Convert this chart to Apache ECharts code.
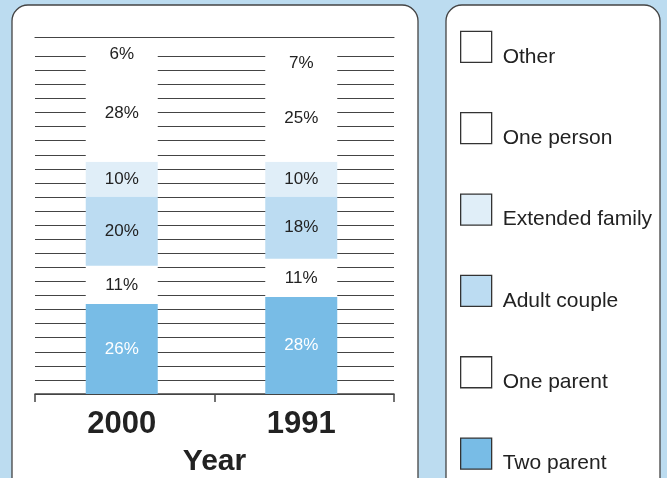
<!DOCTYPE html>
<html>
<head>
<meta charset="utf-8">
<script src="https://cdn.jsdelivr.net/npm/echarts@6/dist/echarts.min.js"></script>
<style>html,body{margin:0;padding:0;}#c{width:667px;height:478px;}</style>
</head>
<body>
<div id="c"></div>
<script>
const categories = ['2000', '1991'];
const twoParent = [26, 28];
const oneParent = [11, 11];
const adultCouple = [20, 18];
const extendedFamily = [10, 10];
const onePerson = [28, 25];
const other = [6, 7];
const legendOrder = ['Other', 'One person', 'Extended family', 'Adult couple', 'One parent', 'Two parent'];

const FONT = '"Liberation Sans", Arial, Helvetica, sans-serif';
const chart = echarts.init(document.getElementById('c'));

function seg(name, data, color, labelColor) {
  return {
    name: name, type: 'bar', stack: 'total', data: data,
    xAxisIndex: 0, yAxisIndex: 0, barWidth: 72,
    itemStyle: { color: color },
    label: { show: true, position: 'inside', formatter: '{c}%', color: labelColor,
             fontSize: 17, fontFamily: FONT },
    emphasis: { disabled: true }
  };
}

const option = {
  backgroundColor: '#bcdcf0',
  animation: false,
  graphic: [
    { type: 'rect', z: -10, shape: { x: 12, y: 5, width: 406, height: 492, r: 16 },
      style: { fill: '#ffffff', stroke: '#444444', lineWidth: 1.3 }, silent: true },
    { type: 'rect', z: -10, shape: { x: 446, y: 5, width: 214, height: 492, r: 16 },
      style: { fill: '#ffffff', stroke: '#444444', lineWidth: 1.3 }, silent: true }
  ],
  grid: [
    { left: 32, right: 276, top: 37, bottom: 84, outerBoundsMode: 'none', containLabel: false },
    { left: 35, right: 273, top: 56.3, bottom: 84, outerBoundsMode: 'none', containLabel: false }
  ],
  xAxis: [
    { type: 'category', data: categories, gridIndex: 0, position: 'bottom',
      axisLine: { show: false }, axisTick: { show: false },
      axisLabel: { fontSize: 31, fontWeight: 'bold', color: '#222222', fontFamily: FONT, margin: 15 } },
    { type: 'category', data: categories, gridIndex: 1, position: 'bottom',
      axisLine: { onZero: false, lineStyle: { color: '#444444', width: 1.5 } },
      axisTick: { show: true, length: 8, lineStyle: { color: '#444444', width: 1.5 } },
      axisLabel: { show: false },
      name: 'Year', nameLocation: 'middle', nameGap: 53,
      nameTextStyle: { fontSize: 30, fontWeight: 'bold', color: '#222222', fontFamily: FONT } },
    { type: 'category', data: categories, gridIndex: 1, position: 'top', offset: 19.3,
      axisLine: { onZero: false, lineStyle: { color: '#444444', width: 1.2 } },
      axisTick: { show: false }, axisLabel: { show: false } }
  ],
  yAxis: [
    { type: 'value', gridIndex: 0, min: 0, max: 103, show: false, splitLine: { show: false } },
    { type: 'value', gridIndex: 1, min: 0, max: 24, interval: 1,
      axisLine: { show: false }, axisTick: { show: false }, axisLabel: { show: false },
      splitLine: { show: true, lineStyle: { color: '#444444', width: 1 } } }
  ],
  legend: {
    orient: 'vertical', left: 460, top: 30.7, height: 446, padding: 0,
    itemWidth: 31, itemHeight: 31, itemGap: 44.7,
    icon: 'rect',
    data: legendOrder,
    itemStyle: { borderColor: '#333333', borderWidth: 1.3 },
    formatter: '{t|{name}}',
    textStyle: { fontSize: 21, color: '#222222', fontFamily: FONT,
      rich: { t: { fontSize: 21, color: '#222222', fontFamily: FONT, padding: [20, 0, 0, 6] } } },
    selectedMode: false
  },
  series: [
    seg('Two parent', twoParent, '#78bce6', '#ffffff'),
    seg('One parent', oneParent, '#ffffff', '#222222'),
    seg('Adult couple', adultCouple, '#bcdcf2', '#222222'),
    seg('Extended family', extendedFamily, '#e0eef8', '#222222'),
    seg('One person', onePerson, '#ffffff', '#222222'),
    seg('Other', other, '#ffffff', '#222222')
  ]
};
chart.setOption(option);
</script>
</body>
</html>
